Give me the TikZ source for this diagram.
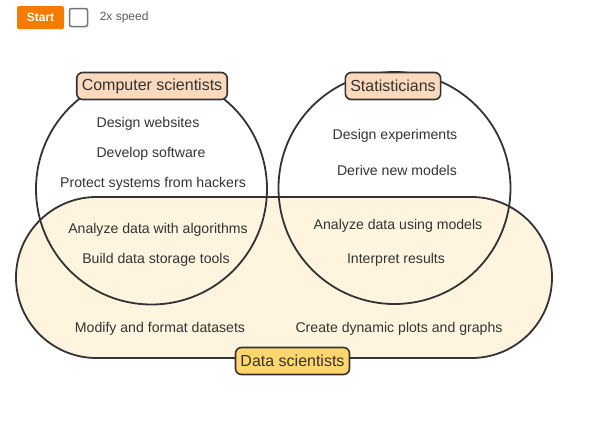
\documentclass[tikz,border=0pt]{standalone}
\usepackage{fontspec}
\setmainfont{Liberation Sans}
\usepackage{tikz}
\usetikzlibrary{positioning}
\definecolor{ink}{HTML}{333333}
\definecolor{csfill}{HTML}{FAD9BC}
\definecolor{dsfill}{HTML}{FFD56E}
\definecolor{blobfill}{HTML}{FFF5DF}
\definecolor{btn}{HTML}{F57C00}
\definecolor{boxgray}{HTML}{757575}
\tikzset{
  item/.style={text=ink,font=\fontsize{14.1}{16}\selectfont,yshift=-1.5pt},
  group/.style={draw=ink,line width=1.6pt,rounded corners=6pt,text=ink,
                font=\fontsize{16}{18}\selectfont,minimum height=27pt,inner xsep=5pt},
  ring/.style={draw=ink,line width=1.8pt}
}
\begin{document}
\begin{tikzpicture}[x=1pt,y=-1pt]
  \useasboundingbox (0,0) rectangle (600,426);
  % controls
  \node (start) [fill=btn,text=white,font=\bfseries\fontsize{12}{14}\selectfont,
        minimum width=47pt,minimum height=23pt,rounded corners=1.5pt] at (40.5,17.5) {Start};
  \node (check) [draw=boxgray,line width=1.5pt,minimum size=18pt,rounded corners=2pt] at (78.5,17.5) {};
  \node (speed) [right=8pt of check,text=ink!80,font=\fontsize{12}{14}\selectfont] {2x speed};
  % data scientists blob
  \draw[ring,fill=blobfill,rounded corners=80.5pt] (16,197) rectangle (552,358);
  % computer scientists / statisticians
  \draw[ring] (151.5,189) circle[radius=115.5pt];
  \draw[ring] (394.5,188) circle[radius=116pt];
  \node (cs) [group,fill=csfill] at (152,86) {Computer scientists};
  \node (st) [group,fill=csfill] at (393,86) {Statisticians};
  \node (ds) [group,fill=dsfill] at (292.5,361) {Data scientists};
  % computer scientists only
  \node (web) [item] at (148,122) {Design websites};
  \node (soft) [item] at (151,152) {Develop software};
  \node (hack) [item] at (153,182) {Protect systems from hackers};
  % statisticians only
  \node (exp) [item] at (395,134) {Design experiments};
  \node (mod) [item] at (397,169) {Derive new models};
  % overlaps
  \node (alg) [item] at (158,228) {Analyze data with algorithms};
  \node (store) [item] at (156,258) {Build data storage tools};
  \node (use) [item] at (398,224) {Analyze data using models};
  \node (interp) [item] at (396,258) {Interpret results};
  % data scientists only
  \node (fmt) [item] at (160,327) {Modify and format datasets};
  \node (plots) [item] at (399,327) {Create dynamic plots and graphs};
\end{tikzpicture}
\end{document}
